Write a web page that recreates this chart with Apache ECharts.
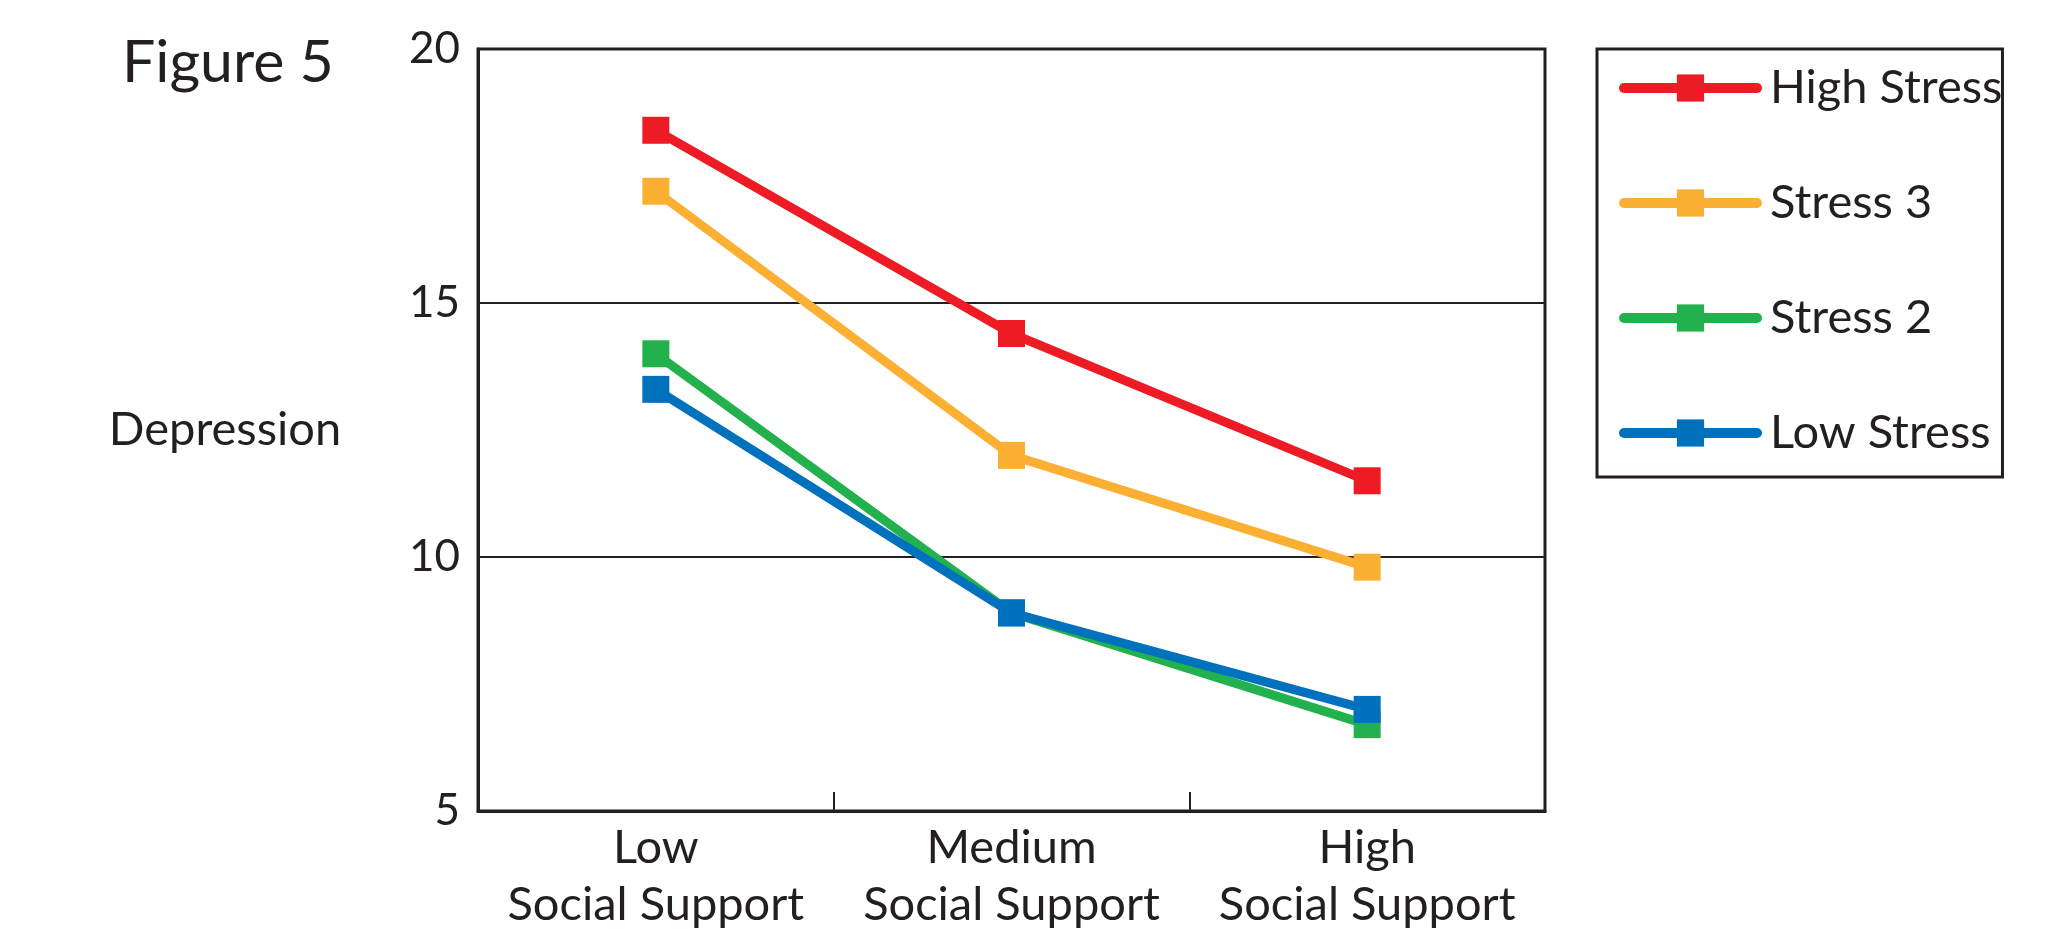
<!DOCTYPE html>
<html>
<head>
<meta charset="utf-8">
<script src="https://cdn.jsdelivr.net/npm/echarts@6/dist/echarts.min.js"></script>
<style>
  html, body { margin: 0; padding: 0; background: #fff; }
  #chart { width: 2066px; height: 934px; }
</style>
</head>
<body>
<div id="chart"></div>
<script>
// categories on the x axis (two-line labels)
const categories = ['Low\nSocial Support', 'Medium\nSocial Support', 'High\nSocial Support'];
// depression score per stress level
const highStress = [18.4, 14.4, 11.5];
const stress3 = [17.2, 12.0, 9.8];
const stress2 = [14.0, 8.9, 6.7];
const lowStress = [13.3, 8.9, 7.0];
const seriesNames = ['High Stress', 'Stress 3', 'Stress 2', 'Low Stress'];
const colors = ['#ed1c24', '#fbb034', '#22b14c', '#0071bc'];
const yTicks = { min: 5, max: 20, step: 5 };

const ink = '#231f20';
const font = 'Lato';

const chart = echarts.init(document.getElementById('chart'));

function lineSeries(name, data, color) {
  return {
    name, type: 'line', data,
    symbol: 'rect', symbolSize: 27,
    lineStyle: { color, width: 9 },
    itemStyle: { color },
    emphasis: { disabled: true },
    animation: false,
  };
}

chart.setOption({
  backgroundColor: '#fff',
  textStyle: { fontFamily: font, color: ink },
  title: {
    text: 'Figure 5', left: 117, top: 28,
    textStyle: { fontFamily: font, fontSize: 59, fontWeight: 'normal', color: ink },
  },
  grid: {
    left: 478, right: 521, top: 49, bottom: 123,
    show: true, borderColor: ink, borderWidth: 3,
  },
  legend: {
    orient: 'vertical', left: 1597, top: 49,
    data: seriesNames,
    padding: [14, 0, 19, 22],
    itemWidth: 133, itemHeight: 34, itemGap: 65,
    borderColor: ink, borderWidth: 3,
    lineStyle: { width: 10, cap: 'round' },
    textStyle: { fontFamily: font, fontSize: 47, color: ink, lineHeight: 50, padding: [0, 0, 0, 8] },
    selectedMode: false,
  },
  xAxis: {
    type: 'category', data: categories, boundaryGap: true,
    axisLine: { lineStyle: { color: ink, width: 3 } },
    axisTick: { show: true, inside: true, length: 19, interval: 0, lineStyle: { color: ink, width: 2 } },
    axisLabel: { fontFamily: font, fontSize: 47, color: ink, lineHeight: 57, margin: 8, interval: 0 },
  },
  yAxis: {
    type: 'value', min: yTicks.min, max: yTicks.max, interval: yTicks.step,
    name: 'Depression', nameLocation: 'middle', nameRotate: 0, nameGap: 253,
    nameTextStyle: { fontFamily: font, fontSize: 47, color: ink, align: 'center', verticalAlign: 'middle' },
    axisLine: { show: true, lineStyle: { color: ink, width: 3 } },
    axisTick: { show: false },
    axisLabel: { fontFamily: font, fontSize: 44, color: ink, margin: 18 },
    splitLine: { lineStyle: { color: ink, width: 2 } },
  },
  series: [
    lineSeries(seriesNames[0], highStress, colors[0]),
    lineSeries(seriesNames[1], stress3, colors[1]),
    lineSeries(seriesNames[2], stress2, colors[2]),
    lineSeries(seriesNames[3], lowStress, colors[3]),
  ],
});
</script>
</body>
</html>
